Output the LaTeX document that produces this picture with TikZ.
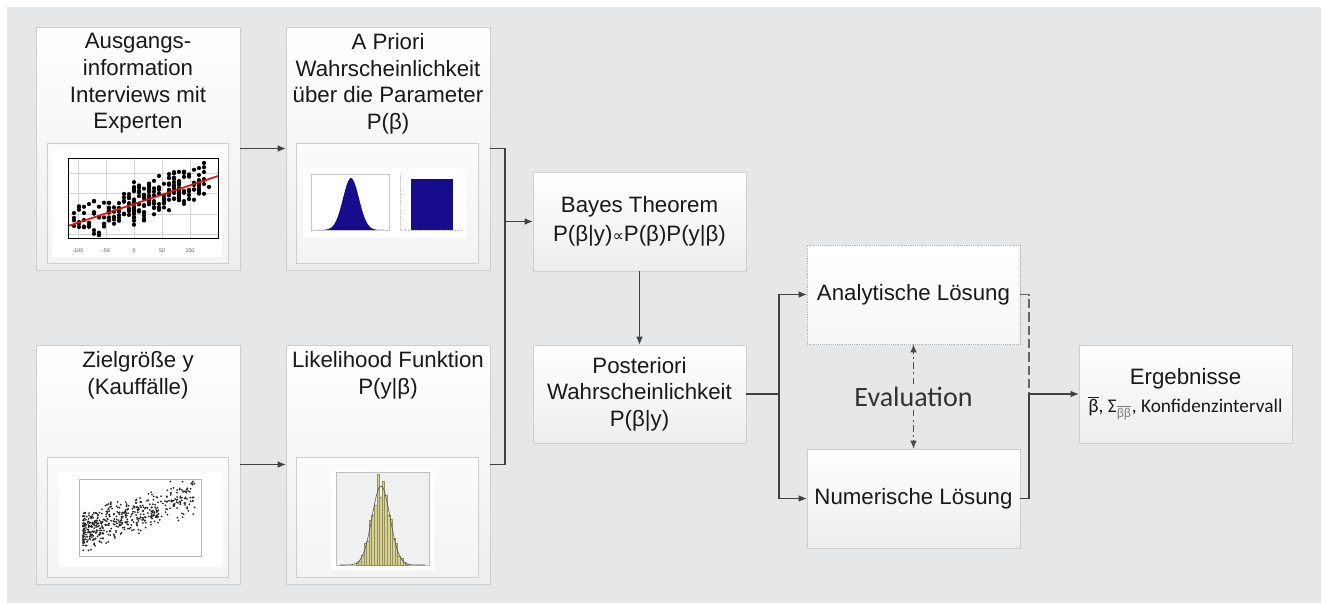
\documentclass[tikz,border=0pt]{standalone}
\usepackage{fontspec}
\setmainfont{Liberation Sans}
\newfontfamily\calfont{Carlito}
\newfontfamily\djvfont{DejaVu Sans}
\usetikzlibrary{positioning,arrows.meta,shadows}
\definecolor{bgcol}{RGB}{230,231,233}
\definecolor{boxline}{RGB}{206,206,206}
\definecolor{boxbot}{RGB}{237,237,237}
\definecolor{linecol}{RGB}{64,64,64}
\definecolor{txtcol}{RGB}{25,25,25}
\definecolor{priorblue}{RGB}{24,12,142}
\definecolor{histfill}{RGB}{214,210,150}
\definecolor{histline}{RGB}{150,145,90}
\newcommand{\ovb}{\ensuremath{\overline{\hbox{β}}}}

\begin{document}
\begin{tikzpicture}[x=0.75pt, y=-0.75pt,
  every node/.style={text=txtcol, font=\fontsize{16.7}{20}\selectfont, align=center},
  box/.style={draw=boxline, top color=white, bottom color=boxbot, inner sep=0pt,
    drop shadow={shadow xshift=0.8pt, shadow yshift=-0.8pt, opacity=0.22}},
  imgframe/.style={draw=boxline, top color=gray!3, bottom color=gray!9, inner sep=0pt,
    drop shadow={shadow xshift=0.6pt, shadow yshift=-0.6pt, opacity=0.2}},
  tick/.style={font=\fontsize{4}{5}\selectfont, text=gray!70!black, inner sep=0pt},
  line/.style={draw=linecol, line width=0.8pt},
  arr/.style={line, -{Latex[length=6pt,width=5pt]}},
  dashline/.style={draw=gray!80!black, line width=0.8pt, dash pattern=on 7pt off 3pt},
  evalarr/.style={draw=gray!60!black, line width=0.9pt,
    dash pattern=on 5pt off 2.5pt on 1.5pt off 2.5pt, -{Latex[length=6pt,width=5pt]}}]

\fill[bgcol] (7,7) rectangle (1321,603);
\useasboundingbox (0,0) rectangle (1321,603);

\node[box, minimum width=153pt, minimum height=182.25pt] (ausg) at (138,148.5) {};
\node[box, minimum width=153pt, minimum height=182.25pt] (prior) at (388,148.5) {};
\node[box, minimum width=153pt, minimum height=179.25pt] (ziel) at (138,464.5) {};
\node[box, minimum width=153pt, minimum height=179.25pt] (like) at (388,464.5) {};

\node[below=4.8pt of ausg.north, inner sep=0pt] (ausgT) {Ausgangs-\\information\\Interviews mit\\Experten};
\node[below=4.8pt of prior.north, inner sep=0pt] (priorT) {A Priori\\Wahrscheinlichkeit\\über die Parameter\\P(β)};
\node[below=4.8pt of ziel.north, inner sep=0pt] (zielT) {Zielgröße y\\(Kauffälle)};
\node[below=4.8pt of like.north, inner sep=0pt] (likeT) {Likelihood Funktion\\P(y|β)};

\node[imgframe, minimum width=135.75pt, minimum height=90pt] (ausgImg) at (137.5,203) {};
\node[imgframe, minimum width=136.5pt, minimum height=90pt] (priorImg) at (387,203) {};
\node[imgframe, minimum width=135.75pt, minimum height=90pt] (zielImg) at (137.5,517) {};
\node[imgframe, minimum width=136.5pt, minimum height=90pt] (likeImg) at (387,517) {};

% Streudiagramm Experten
\fill[white] (52,150) rectangle (222,257);
\foreach \gx in {78,106,134,162,190} \draw[gray!35, line width=0.4pt] (\gx,158) -- (\gx,238);
\foreach \gy in {173,193,214,234} \draw[gray!35, line width=0.4pt] (68,\gy) -- (218,\gy);
\begin{scope}
  \clip (68,158) rectangle (218,238);
  \pgfmathsetseed{3}
  \foreach \i in {1,...,240}{
    \pgfmathsetmacro{\xx}{74+5*round(27*rnd)}
    \pgfmathsetmacro{\yy}{226-(\xx-68)/3+14*rand+8*rand}
    \fill (\xx,\yy) circle (2.1);
  }
\end{scope}
\draw[red, line width=1.3pt] (68,226) -- (218,176);
\draw[black, line width=0.6pt] (68,158) rectangle (218,238);
\foreach \v/\gx in {-100/78,-50/106,0/134,50/162,100/190}
  \node[tick] (xt\gx) at (\gx,251) {\v};

% A priori Verteilungen
\fill[white] (303,169) rectangle (466,238);
\draw[gray!45, line width=0.3pt] (311,174) rectangle (389,230);
\draw[gray!45, line width=0.3pt, densely dotted] (400,174) -- (400,230) -- (463,230);
\fill[priorblue] plot[domain=318:384, samples=50] (\x,{230-52*exp(-((\x-351)^2)/128)}) -- cycle;
\fill[priorblue] (411,179) rectangle (453,230);

% Streudiagramm Kauffaelle
\fill[white] (59,472) rectangle (223,567);
\draw[gray!55, line width=0.4pt] (79,479) rectangle (201,556);
\begin{scope}
  \clip (79,479) rectangle (201,556);
  \pgfmathsetseed{11}
  \foreach \i in {1,...,520}{
    \pgfmathsetmacro{\xx}{83+112*rnd^1.6}
    \pgfmathsetmacro{\yy}{532-(\xx-82)*0.33+13*rand+9*rand}
    \fill[black!85] (\xx,\yy) circle (1);
  }
\end{scope}

% Histogramm Likelihood
\fill[white] (331,470) rectangle (434,570);
\filldraw[fill=gray!12, draw=gray!50, line width=0.3pt] (336,472) rectangle (429,565);
\foreach \h [count=\k from 0] in {2,4,10,22,24,45,50,60,91,68,84,70,50,46,27,22,9,7,3,1}
  \filldraw[fill=histfill, draw=histline, line width=0.2pt]
    ({356+2.6*\k},565) rectangle ({358.6+2.6*\k},{565-\h});
\draw[gray!60!black, line width=0.4pt] plot[domain=340:425, samples=60, smooth] (\x,{565-79*exp(-((\x-381)^2)/162)});

\node[box, minimum width=159.75pt, minimum height=74.25pt] (bayes) at (639.5,221.5)
  {Bayes Theorem\\[1.5pt]P(β|y){\djvfont\fontsize{12}{20}\selectfont ∝}P(β)P(y|β)};
\node[box, minimum width=159.75pt, minimum height=73.5pt] (post) at (639.5,394)
  {Posteriori\\Wahrscheinlichkeit\\P(β|y)};
\node[box, draw=gray!60, densely dotted, top color=white, bottom color=gray!6,
  minimum width=159.75pt, minimum height=74.25pt] (anal) at (913.5,294.5) {Analytische Lösung};
\node[box, minimum width=159.75pt, minimum height=74.25pt] (num) at (913.5,498.5) {Numerische Lösung};
\node[box, minimum width=159.75pt, minimum height=73.5pt] (erg) at (1185.5,394)
  {Ergebnisse\\[1pt]{\calfont\fontsize{14.5}{17}\selectfont \ovb, Σ\textsubscript{\color{gray}\ovb\ovb}, Konfidenzintervall}};
\node[inner sep=2pt, text=black!80] (eval) at (913.5,397) {\calfont\fontsize{21}{24}\selectfont Evaluation};

\coordinate (merge) at (505,221.5);
\coordinate (split) at (779,394);
\coordinate (join) at (1029,394);

\draw[arr] (ausg) -- (prior);
\draw[arr] (ziel) -- (like);
\draw[line] (prior.east) -| (merge);
\draw[line] (like.east) -| (merge);
\draw[arr] (merge) -- (bayes);
\draw[arr] (bayes) -- (post);
\draw[line] (post) -- (split);
\draw[arr] (split) |- (anal);
\draw[arr] (split) |- (num);
\draw[dashline] (anal) -| (join);
\draw[line] (num) -| (join);
\draw[arr] (join) -- (erg);
\draw[evalarr] (eval) -- (anal);
\draw[evalarr] (eval) -- (num);
\end{tikzpicture}
\end{document}
